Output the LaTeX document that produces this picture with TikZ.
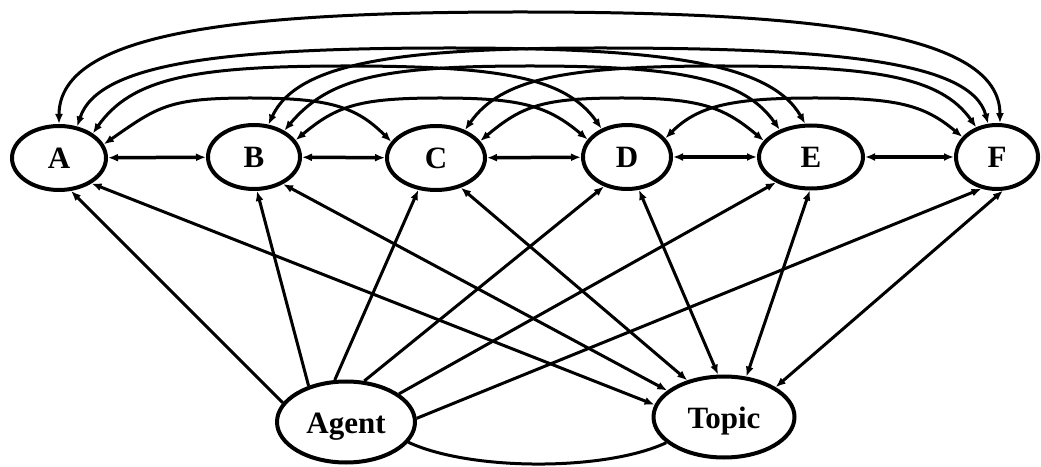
\documentclass[tikz,border=0pt]{standalone}
\usepackage{fontspec}
\setmainfont{Liberation Serif}
\usetikzlibrary{arrows.meta,shapes.geometric}
\begin{document}
\begin{tikzpicture}[x=1pt,y=1pt,
  lbl/.style={ellipse,draw,line width=4pt,inner sep=0pt,text height=22pt,text depth=-3pt,font=\fontsize{31}{32}\selectfont\bfseries},
  edge/.style={line width=3pt,{Latex[length=10pt,width=8pt]}-{Latex[length=10pt,width=8pt]}},
  oneway/.style={line width=3pt,-{Latex[length=10pt,width=8pt]}},
  plainline/.style={line width=3pt}]
\useasboundingbox (0,0) rectangle (1041,466);
\fill[white] (0,0) rectangle (1041,466);
% nodes
\node[lbl,minimum width=94pt,minimum height=64pt] (A) at (59,308) {A};
\node[lbl,minimum width=92pt,minimum height=64pt] (B) at (254,309) {B};
\node[lbl,minimum width=98pt,minimum height=64pt] (C) at (436,308) {C};
\node[lbl,minimum width=88pt,minimum height=64pt] (D) at (627,309) {D};
\node[lbl,minimum width=104pt,minimum height=63pt] (E) at (811,309) {E};
\node[lbl,minimum width=82pt,minimum height=64pt] (F) at (997,309) {F};
\node[lbl,minimum width=138pt,minimum height=81pt] (Agent) at (346,44) {Agent};
\node[lbl,minimum width=141pt,minimum height=81pt] (Topic) at (724,49) {Topic};
% peak coordinates of the arcs
\coordinate (pAF) at (520,454);
\coordinate (pAE) at (450,418);
\coordinate (pBF) at (600,418);
\coordinate (pAD) at (345,400);
\coordinate (pBE) at (530,400);
\coordinate (pCF) at (720,400);
\coordinate (pAC) at (250,368);
\coordinate (pBD) at (440,368);
\coordinate (pCE) at (622,368);
\coordinate (pDF) at (815,368);
% straight neighbour edges
\draw[edge,line width=3.5pt] (A) -- (B);
\draw[edge,line width=3.5pt] (B) -- (C);
\draw[edge,line width=3.5pt] (C) -- (D);
\draw[edge,line width=3.5pt] (D) -- (E);
\draw[edge,line width=3.5pt] (E) -- (F);
% arcs
\draw[edge] (A.90) to[out=90,in=180,out distance=91pt,in distance=286pt] (pAF) to[out=0,in=90,out distance=298pt,in distance=90pt] (F.85);
\draw[edge] (A.60) to[out=72,in=180,out distance=67pt,in distance=224pt] (pAE) to[out=0,in=120,out distance=214pt,in distance=70pt] (E.100);
\draw[edge] (B.66) to[out=65,in=180,out distance=69pt,in distance=199pt] (pBF) to[out=0,in=105,out distance=233pt,in distance=65pt] (F.105);
\draw[edge] (A.36) to[out=55,in=180,out distance=67pt,in distance=152pt] (pAD) to[out=0,in=125,out distance=155pt,in distance=63pt] (D.132);
\draw[edge] (B.41) to[out=50,in=180,out distance=69pt,in distance=148pt] (pBE) to[out=0,in=125,out distance=151pt,in distance=62pt] (E.139);
\draw[edge] (C.44) to[out=55,in=180,out distance=63pt,in distance=154pt] (pCF) to[out=0,in=125,out distance=154pt,in distance=62pt] (F.125);
\draw[edge] (A.17) to[out=35,in=180,out distance=66pt,in distance=81pt] (pAC) to[out=0,in=135,out distance=79pt,in distance=50pt] (C.160);
\draw[edge] (B.22) to[out=40,in=180,out distance=54pt,in distance=80pt] (pBD) to[out=0,in=140,out distance=82pt,in distance=52pt] (D.156);
\draw[edge] (C.21) to[out=40,in=180,out distance=55pt,in distance=79pt] (pCE) to[out=0,in=140,out distance=79pt,in distance=52pt] (E.161);
\draw[edge] (D.26) to[out=45,in=180,out distance=46pt,in distance=83pt] (pDF) to[out=0,in=140,out distance=82pt,in distance=50pt] (F.150);
% Agent to letters
\draw[oneway] (Agent.163) -- (A.-70);
\draw[oneway] (Agent.136) -- (B.-85);
\draw[oneway] (Agent.105) -- (C.-119);
\draw[oneway] (Agent.66) -- (D.-128);
\draw[oneway] (Agent.28) -- (E.-144);
\draw[oneway] (Agent.3) -- (F.-116);
% letters to Topic
\draw[edge] (A.-38) -- (Topic.170);
\draw[edge] (B.-43) -- (Topic.155);
\draw[edge] (C.-50) -- (Topic.135);
\draw[edge] (D.-70) -- (Topic.98);
\draw[edge] (E.-92) -- (Topic.61);
\draw[edge] (F.-80) -- (Topic.30);
% Agent - Topic
\draw[plainline] (Agent.-18) to[out=-25,in=-155,distance=68pt] (Topic.204);
\end{tikzpicture}
\end{document}
